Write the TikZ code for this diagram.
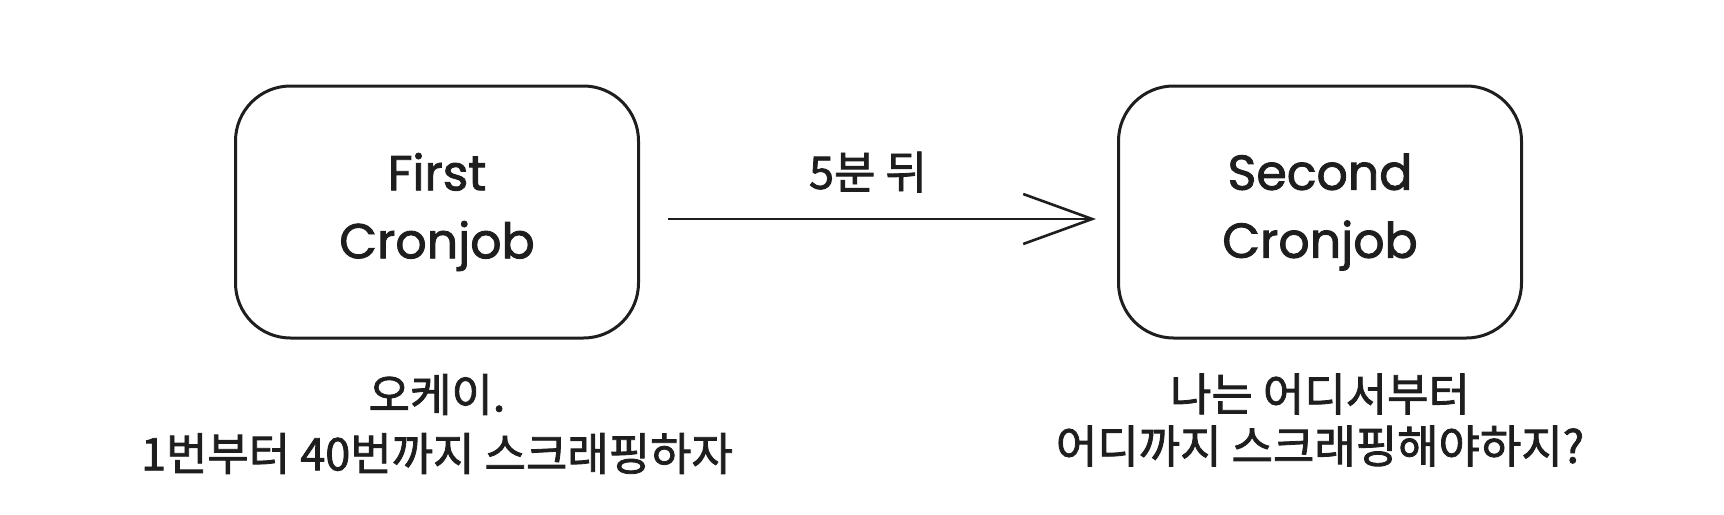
\documentclass[tikz,border=0pt]{standalone}
\usepackage{fontspec}
\setmainfont{Noto Sans CJK KR}[BoldFont=Noto Sans CJK KR, BoldFeatures={FakeBold=1.8}]
\newfontfamily\boxfont{Poppins}[BoldFont=Poppins, BoldFeatures={FakeBold=1.8}]
\usetikzlibrary{arrows.meta}
\definecolor{ink}{HTML}{1E1E1E}
\begin{document}
\begin{tikzpicture}[
        x=1pt, y=-1pt,
        jobbox/.style={draw=ink, line width=3pt, rounded corners=55pt, minimum width=403pt, minimum height=252pt, align=center, text=ink, font=\boxfont\bfseries\fontsize{49}{68}\selectfont},
        note/.style={align=center, text=ink, font=\bfseries\fontsize{45}{59}\selectfont},
        flow/.style={draw=ink, line width=2.6pt, -{Straight Barb[length=69pt, width=50pt]}}
    ]
        \useasboundingbox (0,0) rectangle (1724,514);
        \node[jobbox] (first)  at (437,212)  {First\\Cronjob};
        \node[jobbox] (second) at (1320,212) {Second\\Cronjob};

        \node[note] (delay) at (868,172) {5분 뒤};
        \node[note] (firstnote) at (437,424) {오케이.\\1번부터 40번까지 스크래핑하자};
        \node[note, font=\bfseries\fontsize{45}{52}\selectfont] (secondnote) at (1320,420) {나는 어디서부터\\어디까지 스크래핑해야하지?};

        \draw[flow, shorten <=28pt, shorten >=21pt] ([yshift=-7pt]first.east) -- ([yshift=-7pt]second.west);
    \end{tikzpicture}
\end{document}
